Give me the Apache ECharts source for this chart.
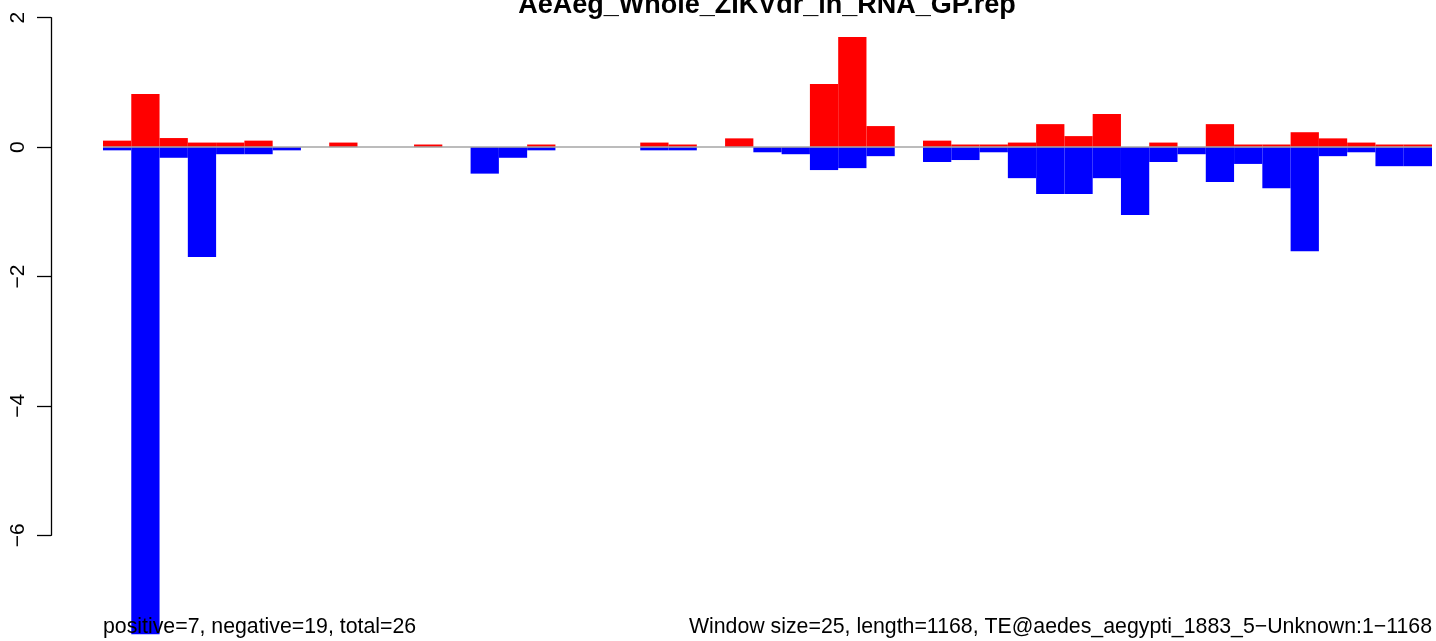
<!DOCTYPE html>
<html>
<head>
<meta charset="utf-8">
<script src="https://cdn.jsdelivr.net/npm/echarts@6/dist/echarts.min.js"></script>
<style>
html,body{margin:0;padding:0;background:#fff;}
#chart{width:1436px;height:641px;}
</style>
</head>
<body>
<div id="chart"></div>
<script>
const titleText = "AeAeg_Whole_ZIKVdr_in_RNA_GP.rep";
const leftNote = "positive=7, negative=19, total=26";
const rightNote = "Window size=25, length=1168, TE@aedes_aegypti_1883_5\u2212Unknown:1\u22121168";

const bins = Array.from({length: 47}, (_, i) => String(i + 1));
const positiveValues = [
  0.10, 0.82, 0.14, 0.07, 0.07, 0.10, 0, 0, 0.07, 0,
  0, 0.04, 0, 0, 0, 0.04, 0, 0, 0, 0.07,
  0.04, 0, 0.135, 0, 0, 0.975, 1.70, 0.325, 0, 0.10,
  0.04, 0.04, 0.07, 0.355, 0.17, 0.51, 0, 0.07, 0, 0.355,
  0.04, 0.04, 0.23, 0.135, 0.07, 0.04, 0.04
];
const negativeValues = [
  -0.05, -7.53, -0.165, -1.70, -0.11, -0.11, -0.05, 0, 0, 0,
  0, 0, 0, -0.41, -0.165, -0.05, 0, 0, 0, -0.05,
  -0.05, 0, 0, -0.08, -0.11, -0.355, -0.325, -0.14, 0, -0.23,
  -0.20, -0.08, -0.48, -0.725, -0.725, -0.48, -1.05, -0.23, -0.11, -0.54,
  -0.26, -0.635, -1.61, -0.14, -0.08, -0.295, -0.295
];
const yTicks = [-6, -4, -2, 0, 2];

const FONT = "'Liberation Sans', Arial, sans-serif";
const chart = echarts.init(document.getElementById('chart'), null, {renderer: 'canvas'});

const option = {
  animation: false,
  backgroundColor: '#ffffff',
  title: [
    {text: titleText, left: 767, top: -8, textAlign: 'center', padding: 0,
     textStyle: {fontFamily: FONT, fontSize: 27, fontWeight: 'bold', color: '#000', lineHeight: 27}},
    {text: leftNote, left: 103, top: 617, padding: 0,
     textStyle: {fontFamily: FONT, fontSize: 21.3, fontWeight: 'normal', color: '#000', lineHeight: 21}},
    {text: rightNote, right: 4, top: 617, padding: 0,
     textStyle: {fontFamily: FONT, fontSize: 21.3, fontWeight: 'normal', color: '#000', lineHeight: 21}}
  ],
  grid: [
    {left: 103, right: 4, top: 17.7, bottom: 6.7, containLabel: false},
    {left: 51, width: 1, top: 17.7, height: 517.6, containLabel: false}
  ],
  xAxis: [
    {type: 'category', gridIndex: 0, data: bins, show: false, boundaryGap: true},
    {type: 'value', gridIndex: 1, show: false, min: 0, max: 1}
  ],
  yAxis: [
    {type: 'value', gridIndex: 0, min: -7.53, max: 2, show: false, splitLine: {show: false}},
    {type: 'value', gridIndex: 1, min: -6, max: 2, interval: 2, position: 'left',
     axisLine: {show: true, lineStyle: {color: '#000', width: 1.3}},
     axisTick: {show: true, inside: false, length: 14, lineStyle: {color: '#000', width: 1.3}},
     splitLine: {show: false},
     axisLabel: {show: true, rotate: 90, margin: 22, color: '#000', fontFamily: FONT, fontSize: 21,
       formatter: v => (yTicks.includes(v) ? String(v).replace('-', '\u2212') : '')}}
  ],
  series: [
    {type: 'bar', name: 'zero', xAxisIndex: 0, yAxisIndex: 0, data: [], z: 1,
     markLine: {silent: true, symbol: 'none', label: {show: false},
       lineStyle: {color: '#a6a6a6', width: 1.6, type: 'solid'},
       data: [{yAxis: 0}]}},
    {type: 'bar', name: 'positive', xAxisIndex: 0, yAxisIndex: 0, data: positiveValues,
     barWidth: '100%', barGap: '-100%', barCategoryGap: '0%', z: 3,
     itemStyle: {color: '#ff0000'}},
    {type: 'bar', name: 'negative', xAxisIndex: 0, yAxisIndex: 0, data: negativeValues,
     barWidth: '100%', barGap: '-100%', barCategoryGap: '0%', z: 3,
     itemStyle: {color: '#0000ff'}}
  ]
};
chart.setOption(option);
</script>
</body>
</html>
